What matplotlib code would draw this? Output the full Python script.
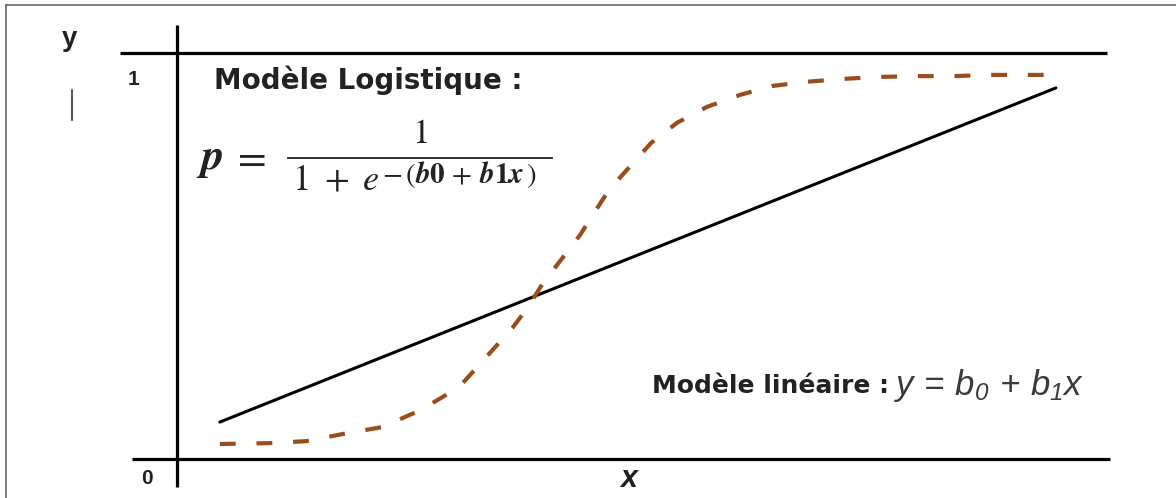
import matplotlib
matplotlib.use("Agg")
import matplotlib.pyplot as plt

# conceptual units: x from 0 to 10 along the x axis, y from 0 to 1
lin_x = [0.46, 9.44]
lin_y = [0.091, 0.914]

logit_x = [0.46, 0.98, 1.39, 1.79, 2.21, 2.62, 3.03, 3.36, 3.61, 3.77, 3.93,
           4.15, 4.33, 4.48, 4.64, 4.86, 5.09, 5.37, 5.69, 6.05, 6.40, 6.76,
           7.14, 7.54, 7.94, 8.34, 8.72, 9.12, 9.44]
logit_y = [0.037, 0.039, 0.044, 0.062, 0.079, 0.121, 0.177, 0.261, 0.325,
           0.374, 0.433, 0.498, 0.552, 0.606, 0.663, 0.719, 0.778, 0.828,
           0.867, 0.897, 0.919, 0.929, 0.936, 0.941, 0.943, 0.943, 0.946,
           0.946, 0.946]

plt.rcParams['mathtext.fontset'] = 'custom'
plt.rcParams['mathtext.rm'] = 'Liberation Sans:italic'
plt.rcParams['mathtext.it'] = 'Liberation Sans:italic'

fig = plt.figure(figsize=(11.76, 4.98), dpi=100)
ax = fig.add_axes([0, 0, 1, 1])
ax.set_xlim(-1.901, 10.730)
ax.set_ylim(-0.096, 1.1305)
ax.axis('off')

# frame around the picture (only top and left are visible)
fig.add_artist(plt.Line2D([0.005, 1.0], [0.99, 0.99], color='#666666', lw=1.2))
fig.add_artist(plt.Line2D([0.005, 0.005], [0.0, 0.99], color='#666666', lw=1.2))

# axes lines
ax.plot([-0.61, 9.99], [1, 1], color='black', lw=2.3, solid_capstyle='butt')
ax.plot([-0.48, 10.02], [0, 0], color='black', lw=2.3, solid_capstyle='butt')
ax.plot([0, 0], [-0.07, 1.07], color='black', lw=2.3, solid_capstyle='butt')

ax.plot(lin_x, lin_y, color='black', lw=2.2, solid_capstyle='round')
ax.plot(logit_x, logit_y, color='#9a4c1c', lw=3.0, dashes=(3.8, 5.0),
        dash_capstyle='butt')

sans = 'Liberation Sans'
bold = 'DejaVu Sans'
ax.text(-1.15, 1.035, 'y', fontsize=20, fontweight='bold', family=sans,
        color='#222222', ha='center', va='center')
ax.text(-0.47, 0.935, '1', fontsize=15, fontweight='bold', family=sans,
        color='#222222', ha='center', va='center')
ax.text(-0.32, -0.047, '0', fontsize=15, fontweight='bold', family=sans,
        color='#222222', ha='center', va='center')
ax.text(4.85, -0.05, 'x', fontsize=22, fontweight='bold', style='italic',
        family=sans, color='#222222', ha='center', va='center')
ax.plot([-1.13, -1.13], [0.835, 0.91], color='#333333', lw=1.2)

ax.text(0.40, 0.933, 'Modèle Logistique :', fontsize=20, fontweight='bold',
        family=bold, color='#222222', ha='left', va='center')

# logistic formula, laid out by hand so the exponent can be wide
ink = '#222222'
mt = dict(math_fontfamily='stix', color=ink)
ax.text(0.345, 0.741, r'$\mathbfit{p}$', fontsize=32, ha='center',
        va='center', **mt)
ax.text(0.765, 0.744, r'$=$', fontsize=30, ha='center', va='center', **mt)
ax.plot([1.19, 4.03], [0.741, 0.741], color=ink, lw=1.3)
ax.text(2.605, 0.778, r'$1$', fontsize=25, ha='center', va='baseline', **mt)
ax.text(1.235, 0.6626, r'$1$', fontsize=26, ha='left', va='baseline', **mt)
ax.text(1.71, 0.6626, r'$+$', fontsize=26, ha='center', va='baseline', **mt)
ax.text(1.99, 0.6626, r'$e$', fontsize=26, ha='left', va='baseline', **mt)
ax.text(2.20, 0.680,
        r'$-\,(\mathbfit{b}\mathbf{0}\,+\,\mathbfit{b}\mathbf{1}'
        r'\mathbfit{x}\,)$',
        fontsize=21, ha='left', va='baseline', **mt)

ax.text(5.10, 0.18, 'Modèle linéaire :', fontsize=18, fontweight='bold',
        family=bold, color='#222222', ha='left', va='center')
ax.text(7.70, 0.182, r'$y\,=\,b_0\,+\,b_1x$',
        fontsize=25, color='#3a3a3a', ha='left', va='center')

fig.savefig('out.png', dpi=100)
